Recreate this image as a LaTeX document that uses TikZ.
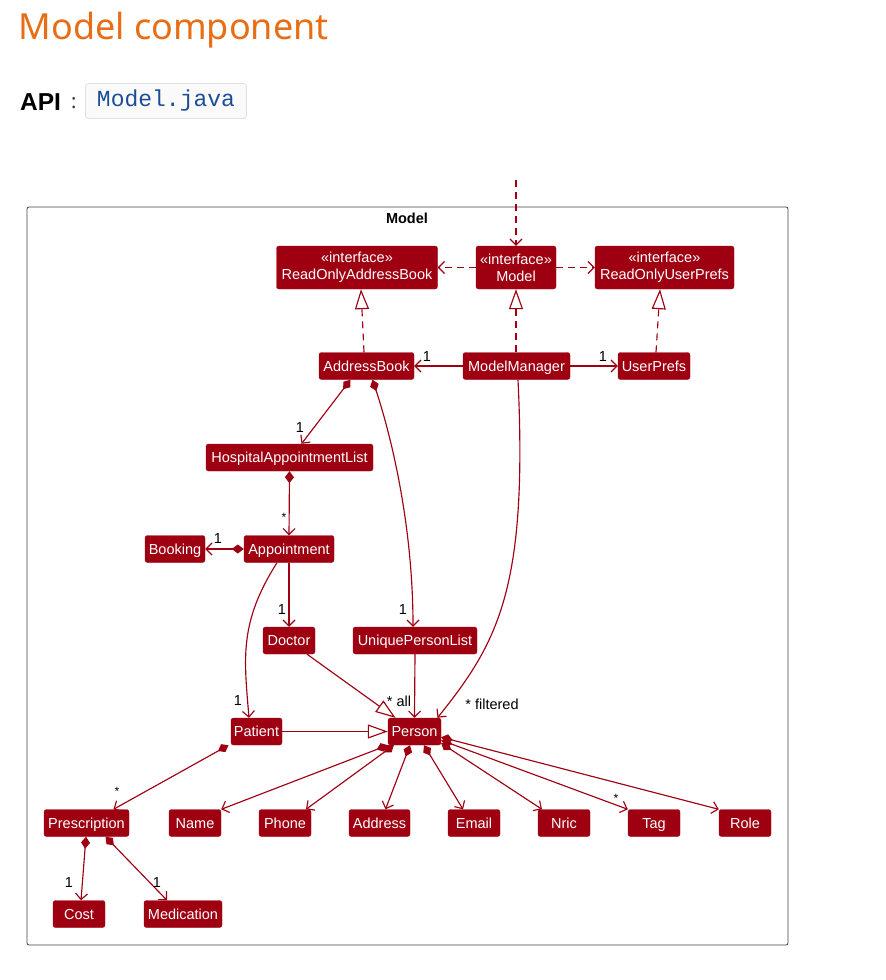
\documentclass[tikz,border=0pt]{standalone}
\usepackage{fontspec}
\setmainfont{Liberation Sans}
\newfontfamily\titlefont{Noto Sans}
\newfontfamily\codefont{Liberation Mono}
\usetikzlibrary{arrows.meta,calc}
\definecolor{mred}{RGB}{158,0,18}
\definecolor{titleorange}{RGB}{232,110,22}
\definecolor{codeblue}{RGB}{28,78,150}
\begin{document}
\begin{tikzpicture}[x=1pt,y=-1pt,
  clsbase/.style={fill=mred,draw=mred,rounded corners=2.5pt,text=white,
    font=\fontsize{14.5}{17}\selectfont,inner xsep=1pt,inner ysep=0pt,align=center},
  cls/.style={clsbase,minimum height=27pt,text height=11pt,text depth=0.8pt},
  cls2/.style={clsbase,minimum height=43pt},
  ln/.style={draw=mred,line width=1.15pt},
  dep/.style={ln,dash pattern=on 7pt off 5pt,-{Straight Barb[length=6pt,width=12pt]}},
  real/.style={ln,dash pattern=on 7pt off 5pt,-{Triangle[open,length=20pt,width=14pt,fill=white]}},
  inh/.style={ln,-{Triangle[open,length=20pt,width=14pt,fill=white]}},
  assoc/.style={ln,-{Straight Barb[length=6pt,width=12pt]}},
  comp/.style={ln,{Diamond[length=12pt,width=9pt]}-{Straight Barb[length=6pt,width=12pt]}},
  lbl/.style={text=black,font=\fontsize{14.5}{16}\selectfont,inner sep=0pt},
  star/.style={text=black,font=\fontsize{12}{13}\selectfont,inner sep=0pt}
]
\useasboundingbox (0,0) rectangle (886,980);

% header
\node[anchor=base west,inner sep=0pt,text=titleorange,font=\titlefont\fontsize{36}{40}\selectfont] (title) at (18.5,39) {Model component};
\node[anchor=base west,inner sep=0pt,font=\bfseries\fontsize{24.5}{28}\selectfont] (api) at (20,110) {API};
\node[anchor=base west,inner sep=0pt,font=\titlefont\fontsize{20}{24}\selectfont,text=black!80] (colon) at (71,108) {:};
\node[draw=black!12,fill=black!2,rounded corners=3pt,line width=0.8pt,minimum width=161pt,minimum height=35pt,inner sep=0pt,
  text=codeblue,font=\codefont\fontsize{23}{26}\selectfont] (code) at (166,101) {Model.java};

% frame
\node[draw=black!75,line width=0.8pt,rounded corners=2pt,minimum width=761pt,minimum height=738pt,inner sep=0pt] (frame) at (407.5,576) {};
\node[font=\bfseries\fontsize{14.5}{17}\selectfont,inner sep=0pt] (framelbl) at (407,218) {Model};

% nodes
\node[cls2,minimum width=161pt] (ROAB) at (357,267.5) {«interface»\\ReadOnlyAddressBook};
\node[cls2,minimum width=80pt] (M) at (516,267.5) {«interface»\\Model};
\node[cls2,minimum width=139pt] (ROUP) at (664.5,267.5) {«interface»\\ReadOnlyUserPrefs};
\node[cls,minimum width=95pt] (AB) at (366.5,366) {AddressBook};
\node[cls,minimum width=107pt] (MM) at (516.5,366) {ModelManager};
\node[cls,minimum width=72pt] (UP) at (654,366) {UserPrefs};
\node[cls,minimum width=167pt] (HAL) at (289.5,457.5) {HospitalAppointmentList};
\node[cls,minimum width=60pt] (Book) at (175,549) {Booking};
\node[cls,minimum width=90pt] (App) at (289,549) {Appointment};
\node[cls,minimum width=52pt] (Doc) at (289,640.5) {Doctor};
\node[cls,minimum width=124pt] (UPL) at (415,640.5) {UniquePersonList};
\node[cls,minimum width=51pt] (Pat) at (256.5,731.5) {Patient};
\node[cls,minimum width=53pt] (Per) at (414.5,731.5) {Person};
\node[cls,minimum width=85pt] (Pres) at (86.5,823) {Prescription};
\node[cls,minimum width=52pt] (Name) at (195,823) {Name};
\node[cls,minimum width=52pt] (Phone) at (285,823) {Phone};
\node[cls,minimum width=61pt] (Addr) at (379.5,823) {Address};
\node[cls,minimum width=52pt] (Email) at (474,823) {Email};
\node[cls,minimum width=52pt] (Nric) at (564,823) {Nric};
\node[cls,minimum width=52pt] (Tag) at (654,823) {Tag};
\node[cls,minimum width=52pt] (Role) at (745,823) {Role};
\node[cls,minimum width=52pt] (Cost) at (79,914) {Cost};
\node[cls,minimum width=78pt] (Med) at (183,914) {Medication};

% connectors
\coordinate (top) at (516,180);
\draw[dep] (top) -- (M.north);
\draw[dep] (M.west) -- (ROAB.east);
\draw[dep] (M.east) -- (ROUP.west);
\draw[real] ([xshift=-2.5pt]AB.north) -- ([xshift=4pt]ROAB.south);
\draw[real] ([xshift=-0.5pt]MM.north) -- (M.south);
\draw[real] ([xshift=2pt]UP.north) -- ([xshift=-4.5pt]ROUP.south);
\draw[assoc] (MM.west) -- (AB.east);
\draw[assoc] (MM.east) -- (UP.west);
\draw[comp] ([xshift=-16pt]AB.south) -- ([xshift=12pt]HAL.north);
\draw[comp] ([xshift=6pt]AB.south) .. controls +(15,45) and +(0,-110) .. ([xshift=-2pt]UPL.north);
\draw[comp] (HAL.south) -- (App.north);
\draw[comp] (App.west) -- (Book.east);
\draw[assoc] (App.south) -- (Doc.north);
\draw[assoc] ([xshift=-12pt]App.south) .. controls +(-38,60) and +(-5,-60) .. ([xshift=-7.5pt]Pat.north);
\draw[inh] ([xshift=18pt]Doc.south) -- ([xshift=-19pt]Per.north);
\draw[assoc] (UPL.south) -- (Per.north);
\draw[assoc] ([xshift=1.5pt]MM.south) .. controls +(10,210) and +(60,-75) .. ([xshift=23pt]Per.north);
\draw[inh] (Pat.east) -- (Per.west);
\draw[comp] ([xshift=-28pt]Pat.south) -- ([xshift=27pt]Pres.north);
\draw[comp] (Per.south west) -- (Name.north east);
\draw[comp] ([xshift=6pt]Per.south west) -- ([xshift=21pt]Phone.north);
\draw[comp] ([xshift=-4.5pt]Per.south) -- ([xshift=6pt]Addr.north);
\draw[comp] ([xshift=9.5pt]Per.south) -- ([xshift=-11pt]Email.north);
\draw[comp] ([yshift=2pt]Per.south east) -- ([xshift=-22pt]Nric.north);
\draw[comp] ([yshift=5pt]Per.south east) -- (Tag.north west);
\draw[comp] ([yshift=8pt]Per.south east) -- (Role.north west);
\draw[comp] ([xshift=-0.5pt]Pres.south) -- ([xshift=2pt]Cost.north);
\draw[comp] ([xshift=19pt]Pres.south) -- ([xshift=-16pt]Med.north);

% labels
\node[lbl] (l1) at (427,357) {1};
\node[lbl] (l2) at (603,357) {1};
\node[lbl] (l3) at (300,428) {1};
\node[star] (l4) at (284,517) {*};
\node[lbl] (l5) at (218,539) {1};
\node[lbl] (l6) at (282,610) {1};
\node[lbl] (l7) at (403,610) {1};
\node[lbl] (l8) at (238,701) {1};
\node[lbl] (l9) at (399,701) {* all};
\node[lbl] (l10) at (492,704) {* filtered};
\node[star] (l11) at (117,791) {*};
\node[star] (l12) at (616,798) {*};
\node[lbl] (l13) at (69,883) {1};
\node[lbl] (l14) at (157,883) {1};
\end{tikzpicture}
\end{document}
